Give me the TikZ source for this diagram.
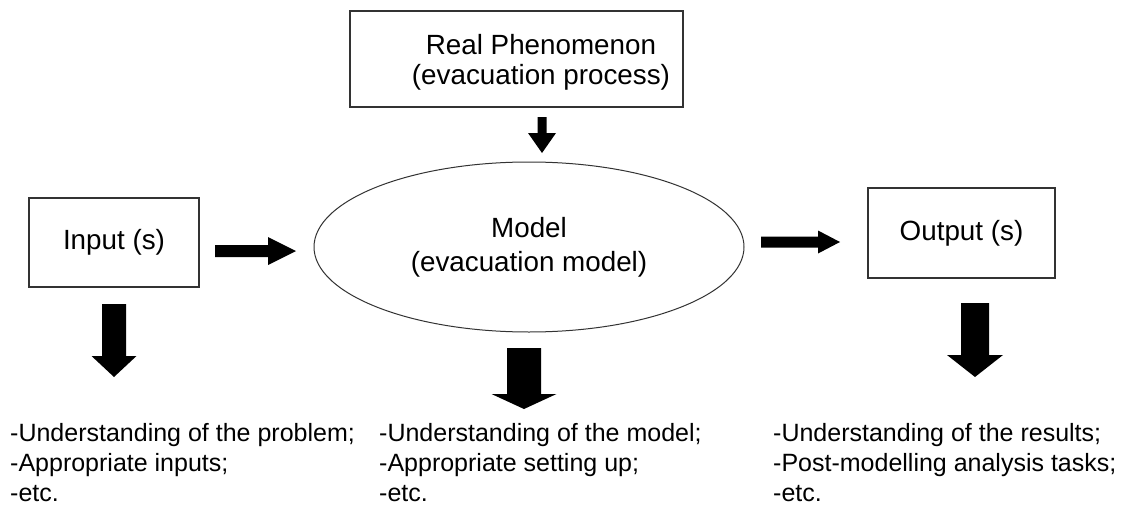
\documentclass[tikz,border=0pt]{standalone}
\usepackage{fontspec}
\setmainfont{Liberation Sans}
\usetikzlibrary{shapes.geometric,calc}

\tikzset{
  frame/.style={draw=black!80, line width=1.2pt, inner sep=0pt},
  boxtext/.style={font=\fontsize{27.8}{30}\selectfont, align=center, inner sep=0pt},
  notes/.style={font=\fontsize{25}{29.7}\selectfont, align=left, anchor=base west, inner sep=0pt},
}

% solid block arrow pointing down: top centre, tip, shaft width, head width, head length
\newcommand\blockdown[5]{%
  \fill ($(#1)+(-#3/2,0)$) -- ($(#1)+(#3/2,0)$) -- ($(#2)+(#3/2,-#5)$) -- ($(#2)+(#4/2,-#5)$)
    -- (#2) -- ($(#2)+(-#4/2,-#5)$) -- ($(#2)+(-#3/2,-#5)$) -- cycle;}
% solid block arrow pointing right: tail centre, tip, shaft width, head width, head length
\newcommand\blockright[5]{%
  \fill ($(#1)+(0,-#3/2)$) -- ($(#2)+(-#5,-#3/2)$) -- ($(#2)+(-#5,-#4/2)$) -- (#2)
    -- ($(#2)+(-#5,#4/2)$) -- ($(#2)+(-#5,#3/2)$) -- ($(#1)+(0,#3/2)$) -- cycle;}

\begin{document}
\begin{tikzpicture}[x=1pt,y=-1pt]
  \fill[white] (0,0) rectangle (1121,506);
  \useasboundingbox (0,0) rectangle (1121,506);

  % boxes and the model ellipse
  \node[frame, minimum width=333, minimum height=96] (real) at (516.5,59) {};
  \node[boxtext] (realtext) at (541,62) {Real Phenomenon\\(evacuation process)};

  \node[frame, minimum width=170, minimum height=89, boxtext] (input) at (114,242.5) {Input (s)};
  \node[frame, minimum width=187, minimum height=90, boxtext] (output) at (961.5,233) {Output (s)};

  \node[ellipse, draw=black!80, line width=1pt, minimum width=430, minimum height=170,
        inner sep=0pt, font=\fontsize{27.8}{34}\selectfont, align=center] (model) at (529,247)
        {Model\\(evacuation model)};

  % arrow end points
  \coordinate (realS) at (542,117);   \coordinate (realT) at (542,153);
  \coordinate (inS)   at (215,251);   \coordinate (inT)   at (296,251);
  \coordinate (outS)  at (761,242);   \coordinate (outT)  at (840,242);
  \coordinate (inD)   at (114,304);   \coordinate (inDT)  at (114,377);
  \coordinate (modD)  at (524,348);   \coordinate (modDT) at (524,409);
  \coordinate (outD)  at (975,303);   \coordinate (outDT) at (975,377);

  \blockdown{realS}{realT}{9}{28}{20}
  \blockright{inS}{inT}{12}{28}{28}
  \blockright{outS}{outT}{11}{23}{22}
  \blockdown{inD}{inDT}{24}{45}{21}
  \blockdown{modD}{modDT}{34}{65}{15}
  \blockdown{outD}{outDT}{28}{56}{22}

  % notes under each stage (anchored on the baseline of the last line)
  \node[notes] (inNotes) at (10,501)
    {-Understanding of the problem;\\-Appropriate inputs;\\-etc.};
  \node[notes] (modNotes) at (379,501)
    {-Understanding of the model;\\-Appropriate setting up;\\-etc.};
  \node[notes] (outNotes) at (773,501)
    {-Understanding of the results;\\-Post-modelling analysis tasks;\\-etc.};
\end{tikzpicture}
\end{document}
